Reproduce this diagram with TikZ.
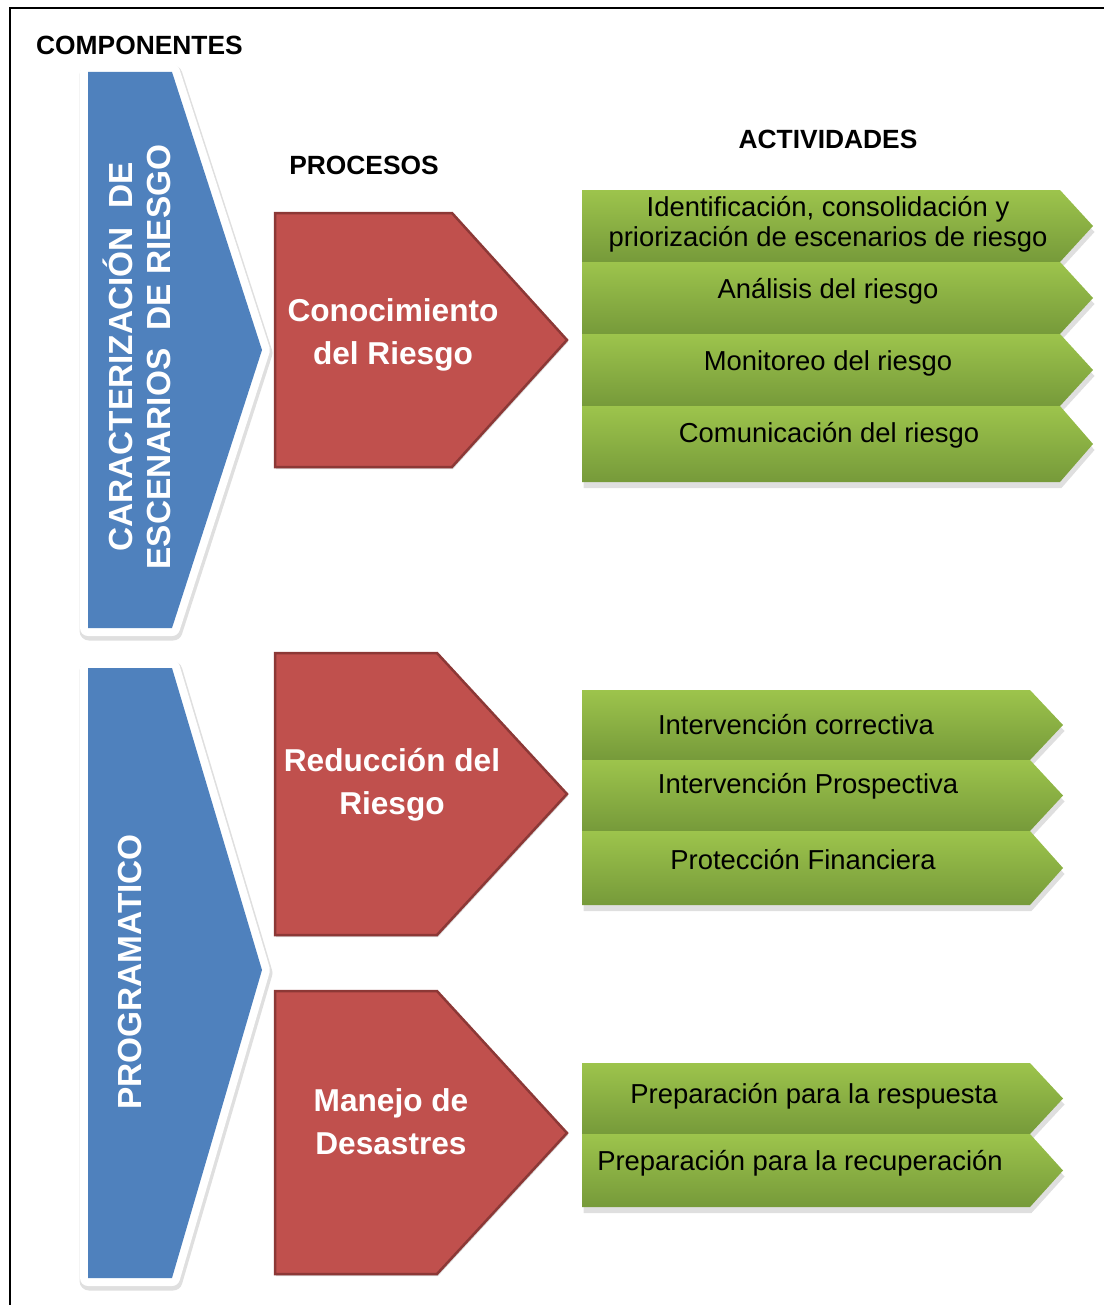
\documentclass[tikz,border=0pt]{standalone}
\usepackage{fontspec}
\setmainfont{Liberation Sans}
\usetikzlibrary{shadows}
\definecolor{compblue}{HTML}{4F81BD}
\definecolor{procred}{HTML}{C0504D}
\definecolor{procline}{HTML}{8C3836}
\definecolor{acttop}{HTML}{9DC44C}
\definecolor{actbot}{HTML}{769A3A}
\tikzset{
  heading/.style={font={\fontsize{15pt}{18pt}\selectfont\bfseries}},
  comptext/.style={font={\fontsize{19pt}{22pt}\selectfont\bfseries}, text=white, rotate=90, align=center, inner sep=0pt},
  proctext/.style={font={\fontsize{18pt}{24.5pt}\selectfont\bfseries}, text=white, align=center, inner sep=0pt},
  acttext/.style={font={\fontsize{15.6pt}{17pt}\selectfont}, align=center, inner sep=0pt},
  compshade/.style={draw=black!18, line width=3.8mm, line join=round, opacity=0.7},
  compedge/.style={draw=white, line width=3.2mm, line join=round},
  procbox/.style={fill=procred, draw=procline, line width=0.5mm,
    drop shadow={shadow xshift=0.2mm, shadow yshift=-0.4mm, opacity=0.3}},
  actbox/.style={top color=acttop, bottom color=actbot,
    drop shadow={shadow xshift=0.3mm, shadow yshift=-1.2mm, opacity=0.25}}
}

\begin{document}
\begin{tikzpicture}[x=0.2mm,y=-0.2mm]
\useasboundingbox (0,0) rectangle (1104,1305);
% frame
\draw [line width=0.5mm] (10,1305) -- (10,8) -- (1104,8);

% headings
\node [heading, anchor=west] (componentes) at (30,45) {COMPONENTES};
\node [heading] (procesos) at (364,165) {PROCESOS};
\node [heading] (actividades) at (828,139) {ACTIVIDADES};

% componentes
\def\compA{(88,72) -- (172,72) -- (262,350) -- (172,628) -- (88,628) -- cycle}
\def\compB{(88,668) -- (172,668) -- (262,970) -- (172,1278) -- (88,1278) -- cycle}
\draw [compshade, transform canvas={yshift=-0.6mm, xshift=0.2mm}] \compA;
\draw [compedge] \compA;
\fill [compblue] \compA;
\draw [compshade, transform canvas={yshift=-0.6mm, xshift=0.2mm}] \compB;
\draw [compedge] \compB;
\fill [compblue] \compB;
\node [comptext] (caracterizacion) at (137,357) {CARACTERIZACIÓN\ \ DE\\ESCENARIOS\ \ DE RIESGO};
\node [comptext] (programatico) at (130,972) {PROGRAMATICO};

% procesos
\path [procbox] (275,213) -- (452,213) -- (567,340) -- (452,467) -- (275,467) -- cycle;
\path [procbox] (275,653) -- (437,653) -- (567,794) -- (437,935) -- (275,935) -- cycle;
\path [procbox] (275,991) -- (437,991) -- (567,1133) -- (437,1274) -- (275,1274) -- cycle;
\node [proctext] (conocimiento) at (393,335) {Conocimiento\\del Riesgo};
\node [proctext] (reduccion) at (392,785) {Reducción del\\Riesgo};
\node [proctext] (manejo) at (391,1122) {Manejo de\\Desastres};

% actividades
\foreach \t/\b/\r in {190/262/1060, 262/334/1060, 334/406/1060, 406/482/1060,
                      690/760/1030, 760/831/1030, 831/905/1030,
                      1063/1134/1030, 1134/1207/1030}
  \path [actbox] (582,\t) -- (\r,\t) -- ({\r+33},{(\t+\b)/2}) -- (\r,\b) -- (582,\b) -- cycle;
\node [acttext] (identificacion) at (828,224) {Identificación, consolidación y\\priorización de escenarios de riesgo};
\node [acttext] (analisis) at (828,291) {Análisis del riesgo};
\node [acttext] (monitoreo) at (828,363) {Monitoreo del riesgo};
\node [acttext] (comunicacion) at (829,435) {Comunicación del riesgo};
\node [acttext] (correctiva) at (796,725) {Intervención correctiva};
\node [acttext] (prospectiva) at (808,786) {Intervención Prospectiva};
\node [acttext] (financiera) at (803,860) {Protección Financiera};
\node [acttext] (respuesta) at (814,1096) {Preparación para la respuesta};
\node [acttext] (recuperacion) at (800,1163) {Preparación para la recuperación};
\end{tikzpicture}
\end{document}
